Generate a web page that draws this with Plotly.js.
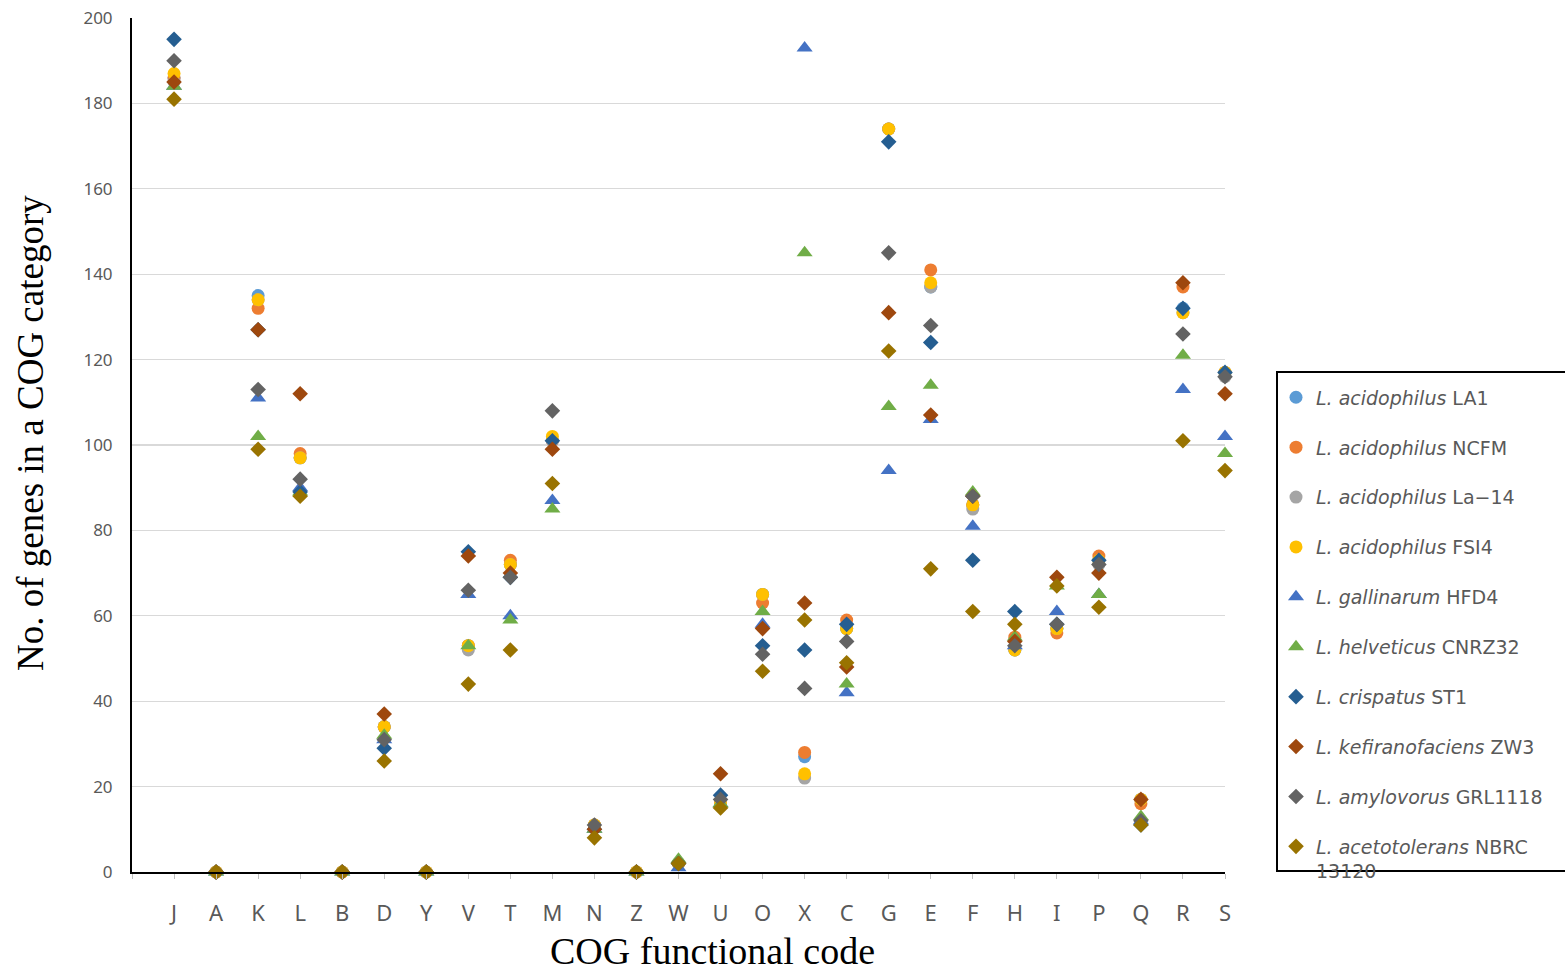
<!DOCTYPE html>
<html>
<head>
<meta charset="utf-8">
<script src="https://cdn.plot.ly/plotly-3.0.1.min.js"></script>
<style>html,body{margin:0;padding:0;background:#fff;}#chart{width:1565px;height:971px;}</style>
</head>
<body>
<div id="chart"></div>
<script>
const categories = ['J','A','K','L','B','D','Y','V','T','M','N','Z','W','U','O','X','C','G','E','F','H','I','P','Q','R','S'];

const seriesNames = [
  '<i>L. acidophilus</i> LA1',
  '<i>L. acidophilus</i> NCFM',
  '<i>L. acidophilus</i> La\u221214',
  '<i>L. acidophilus</i> FSI4',
  '<i>L. gallinarum</i> HFD4',
  '<i>L. helveticus</i> CNRZ32',
  '<i>L. crispatus</i> ST1',
  '<i>L. kefiranofaciens</i> ZW3',
  '<i>L. amylovorus</i> GRL1118',
  '<i>L. acetotolerans</i> NBRC<br>13120'
];

const xTitle = 'COG functional code';
const yTitle = 'No. of genes in a COG category';

const LA1   = [186,0,135,97,0,34,0,53,72,101,11,0,2,16,65,27,57,174,137,86,52,57,73,17,132,117];
const NCFM  = [186,0,132,98,0,34,0,53,73,101,11,0,2,16,63,28,59,174,141,86,55,56,74,16,137,117];
const La14  = [185,0,134,97,0,34,0,52,72,101,11,0,2,16,65,22,57,174,137,85,52,57,72,17,131,116];
const FSI4  = [187,0,134,97,0,34,0,53,72,102,11,0,2,16,65,23,57,174,138,86,52,57,73,17,131,117];
const HFD4  = [184,0,111,90,0,31,0,65,60,87,10,0,1,16,58,193,42,94,106,81,53,61,65,12,113,102];
const CNRZ32= [184,0,102,89,0,32,0,53,59,85,10,0,3,16,61,145,44,109,114,89,55,67,65,13,121,98];
const ST1   = [195,0,127,89,0,29,0,75,69,101,10,0,2,18,53,52,58,171,124,73,61,58,73,11,132,117];
const ZW3   = [185,0,127,112,0,37,0,74,70,99,10,0,2,23,57,63,48,131,107,88,54,69,70,17,138,112];
const GRL1118=[190,0,113,92,0,31,0,66,69,108,11,0,2,17,51,43,54,145,128,88,53,58,72,12,126,116];
const NBRC  = [181,0,99,88,0,26,0,44,52,91,8,0,2,15,47,59,49,122,71,61,58,67,62,11,101,94];

const seriesValues = [LA1,NCFM,La14,FSI4,HFD4,CNRZ32,ST1,ZW3,GRL1118,NBRC];
const colors = ['#5B9BD5','#ED7D31','#A5A5A5','#FFC000','#4472C4','#70AD47','#255E91','#9E480E','#636363','#997300'];
const symbols = ['circle','circle','circle','circle','triangle-up','triangle-up','diamond','diamond','diamond','diamond'];
const sizes = [13,13,13,13,14,14,12,12,12,12];

const xpos = categories.map((c,i)=>i+1);

const traces = seriesValues.map((vals,i)=>({
  type:'scatter', mode:'markers',
  x: xpos, y: vals,
  name: seriesNames[i],
  legendgroup: 'g'+i,
  cliponaxis: false,
  marker:{symbol:symbols[i], color:colors[i], size:sizes[i], line:{width:0}},
  hoverinfo:'y'
}));

const titleFont = {family:'Liberation Serif', size:38, color:'#000000'};

const layout = {
  width:1565, height:971,
  margin:{l:132, r:340, t:18, b:99},
  paper_bgcolor:'#ffffff', plot_bgcolor:'#ffffff',
  showlegend:true,
  legend:{
    x:(1276-132)/1093, xanchor:'left', y:0.578, yanchor:'top',
    font:{family:'DejaVu Sans', size:19, color:'#595959'},
    tracegroupgap:22.2, valign:'top', itemwidth:30,
    bgcolor:'rgba(0,0,0,0)'
  },
  xaxis:{
    range:[0,26],
    tickmode:'array',
    tickvals:[0].concat(xpos),
    ticktext:[''].concat(categories),
    ticks:'outside', ticklen:5, tickcolor:'#bfbfbf', tickwidth:1,
    showline:true, linecolor:'#000000', linewidth:2,
    showgrid:false, zeroline:false,
    tickfont:{family:'Noto Sans', size:22, color:'#595959'},
    ticklabelstandoff:16,
    fixedrange:true
  },
  yaxis:{
    range:[0,200], dtick:20, tick0:0,
    ticks:'',
    showline:true, linecolor:'#000000', linewidth:2,
    showgrid:true, gridcolor:'#d9d9d9', gridwidth:1.3,
    zeroline:false,
    tickfont:{family:'Noto Sans', size:17, color:'#595959'},
    ticklabelstandoff:14,
    fixedrange:true
  },
  annotations:[
    {text:xTitle, xref:'paper', yref:'paper', x:(712-132)/1093, y:(872-951)/854,
     xanchor:'center', yanchor:'middle', showarrow:false, font:titleFont},
    {text:yTitle, xref:'paper', yref:'paper', x:(30-132)/1093, y:(872-433)/854,
     xanchor:'center', yanchor:'middle', textangle:-90, showarrow:false,
     font:{family:'Liberation Serif', size:37, color:'#000000'}}
  ],
  shapes:[{
    type:'rect', xref:'paper', yref:'paper',
    x0:(1277-132)/1093, x1:(1570-132)/1093,
    y0:(872-871)/854, y1:(872-372)/854,
    line:{color:'#000000', width:2}, fillcolor:'rgba(0,0,0,0)', layer:'above'
  }]
};

Plotly.newPlot('chart', traces, layout, {displayModeBar:false, staticPlot:true});
</script>
</body>
</html>
